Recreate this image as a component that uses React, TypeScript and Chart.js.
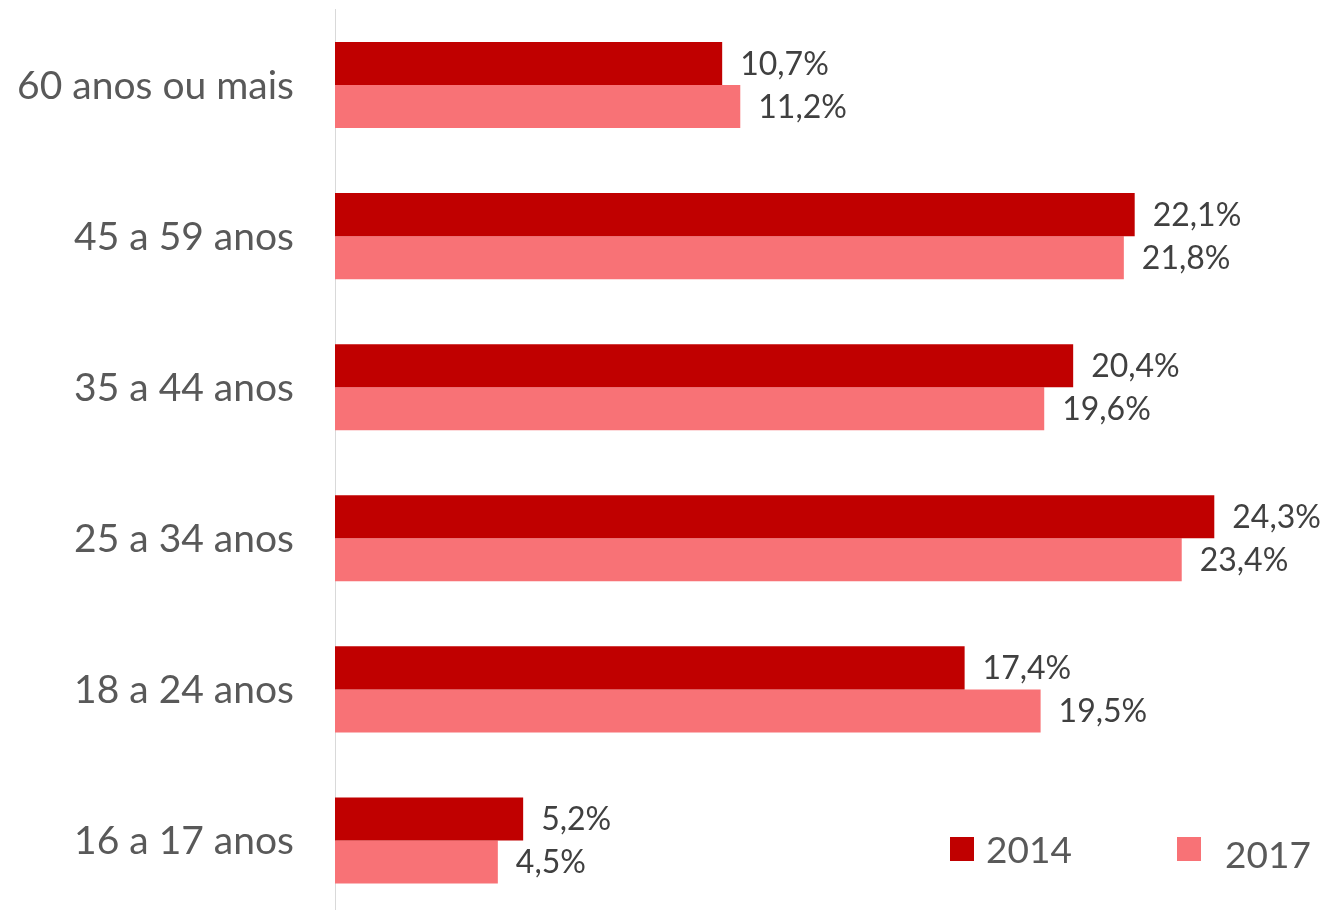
import React, { useEffect, useRef } from "react";
import { Chart, registerables } from "chart.js";

Chart.register(...registerables);

const categories = [
  "60 anos ou mais",
  "45 a 59 anos",
  "35 a 44 anos",
  "25 a 34 anos",
  "18 a 24 anos",
  "16 a 17 anos",
];
const series2014 = [10.7, 22.1, 20.4, 24.3, 17.4, 5.2];
const series2017 = [11.2, 21.8, 19.6, 23.4, 19.5, 4.5];
const seriesLabels = ["2014", "2017"];
const seriesColors = ["#C00000", "#F87276"];

const FONT = "Lato, 'Open Sans', sans-serif";

const fmt = (v: number) => v.toFixed(1).replace(".", ",") + "%";

const labelPlugin = {
  id: "barLabels",
  afterDatasetsDraw(chart: any) {
    const ctx = chart.ctx;
    ctx.save();
    ctx.font = `32px ${FONT}`;
    ctx.fillStyle = "#404040";
    ctx.textAlign = "left";
    ctx.textBaseline = "middle";
    chart.data.datasets.forEach((ds: any, di: number) => {
      const meta = chart.getDatasetMeta(di);
      meta.data.forEach((bar: any, i: number) => {
        ctx.fillText(fmt(ds.data[i]), bar.x + 18, bar.y + 1);
      });
    });
    // category labels
    const yScale = chart.scales.y;
    ctx.font = `39px ${FONT}`;
    ctx.fillStyle = "#595959";
    ctx.textAlign = "right";
    categories.forEach((c, i) => {
      ctx.fillText(c, chart.chartArea.left - 41, yScale.getPixelForValue(i) + 1);
    });
    ctx.restore();
  },
};

const legendPlugin = {
  id: "customLegend",
  afterDraw(chart: any) {
    const ctx = chart.ctx;
    ctx.save();
    ctx.font = `37px ${FONT}`;
    ctx.textAlign = "left";
    ctx.textBaseline = "alphabetic";
    const items = [
      { box: 950, text: 986, base: 863 },
      { box: 1177, text: 1225, base: 868 },
    ];
    items.forEach((it, i) => {
      ctx.fillStyle = seriesColors[i];
      ctx.fillRect(it.box, 837, 24, 24);
      ctx.fillStyle = "#595959";
      ctx.fillText(seriesLabels[i], it.text, it.base);
    });
    ctx.restore();
  },
};

export default function App() {
  const ref = useRef<HTMLCanvasElement>(null);
  useEffect(() => {
    document.body.style.margin = "0";
    document.body.style.overflow = "hidden";
    const chart = new Chart(ref.current!, {
      type: "bar",
      data: {
        labels: categories,
        datasets: [
          {
            label: seriesLabels[0],
            data: series2014,
            backgroundColor: seriesColors[0],
            categoryPercentage: 0.57,
            barPercentage: 1,
          },
          {
            label: seriesLabels[1],
            data: series2017,
            backgroundColor: seriesColors[1],
            categoryPercentage: 0.57,
            barPercentage: 1,
          },
        ],
      },
      options: {
        indexAxis: "y",
        animation: false,
        responsive: false,
        maintainAspectRatio: false,
        layout: { padding: { top: 9.5, right: 15, bottom: 0, left: 0 } },
        plugins: {
          legend: { display: false },
          tooltip: { enabled: false },
        },
        scales: {
          x: {
            display: false,
            min: 0,
            max: 27,
          },
          y: {
            grid: { display: false, drawTicks: false },
            border: { display: true, color: "#D9D9D9", width: 1 },
            ticks: { display: false, padding: 0 },
            afterFit(scale: any) {
              scale.width = 335;
            },
          },
        },
      },
      plugins: [labelPlugin, legendPlugin],
    });
    return () => chart.destroy();
  }, []);
  return (
    <div style={{ width: 1327, height: 910, overflow: "hidden" }}>
      <canvas ref={ref} width={1327} height={916} style={{ display: "block" }} />
    </div>
  );
}
